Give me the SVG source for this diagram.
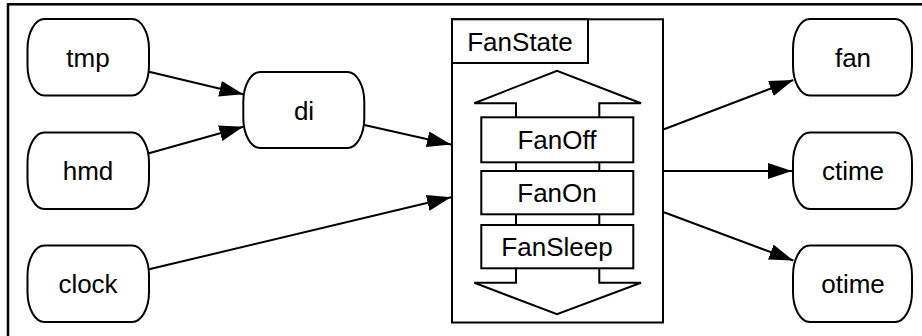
<svg xmlns="http://www.w3.org/2000/svg" width="922" height="336" viewBox="0 0 922 336">
<style>
  .node { fill: #fff; stroke: #000; stroke-width: 2; }
  .box { fill: #fff; stroke: #000; stroke-width: 2; }
  .lbl { font-family: "Liberation Sans", Arial, sans-serif; font-size: 26px; fill: #000; text-anchor: middle; }
  .edge { fill: none; stroke: #000; stroke-width: 2; }
  .frame { fill: #fff; stroke: #000; stroke-width: 2.5; }
</style>
<defs>
  <marker id="ah" markerUnits="userSpaceOnUse" markerWidth="26" markerHeight="18" refX="24" refY="8" orient="auto">
    <path d="M0,0 L24,8 L0,16 Z" fill="#000"/>
  </marker>
</defs>
<rect class="frame" x="8" y="4.3" width="940" height="360"/>

<g id="edges">
  <line class="edge" x1="149" y1="71.7" x2="243.3" y2="94.3" marker-end="url(#ah)"/>
  <line class="edge" x1="149" y1="153.3" x2="243.3" y2="126.7" marker-end="url(#ah)"/>
  <line class="edge" x1="364.3" y1="125" x2="451" y2="144.5" marker-end="url(#ah)"/>
  <line class="edge" x1="149" y1="269.3" x2="451" y2="197.3" marker-end="url(#ah)"/>
  <line class="edge" x1="664" y1="129.3" x2="793.3" y2="80" marker-end="url(#ah)"/>
  <line class="edge" x1="664" y1="171" x2="792" y2="171" marker-end="url(#ah)"/>
  <line class="edge" x1="664" y1="212.3" x2="793.3" y2="260.5" marker-end="url(#ah)"/>
</g>

<g id="tmp">
  <rect class="node" x="27.5" y="19" width="121.5" height="76.5" rx="17" ry="30"/>
  <text class="lbl" x="88" y="66.5">tmp</text>
</g>
<g id="hmd">
  <rect class="node" x="27.5" y="132.5" width="121.5" height="76.5" rx="17" ry="30"/>
  <text class="lbl" x="88" y="180">hmd</text>
</g>
<g id="clock">
  <rect class="node" x="27.5" y="245.5" width="121.5" height="76.5" rx="17" ry="30"/>
  <text class="lbl" x="88" y="293">clock</text>
</g>
<g id="di">
  <rect class="node" x="243.3" y="72" width="121" height="76" rx="17" ry="30"/>
  <text class="lbl" x="304" y="119.5">di</text>
</g>
<g id="fan">
  <rect class="node" x="793" y="19" width="119" height="76.5" rx="17" ry="30"/>
  <text class="lbl" x="853" y="66.5">fan</text>
</g>
<g id="ctime">
  <rect class="node" x="793" y="132.5" width="119" height="76.5" rx="17" ry="30"/>
  <text class="lbl" x="853" y="180">ctime</text>
</g>
<g id="otime">
  <rect class="node" x="793" y="245.5" width="119" height="76.5" rx="17" ry="30"/>
  <text class="lbl" x="853" y="293">otime</text>
</g>

<g id="FanState">
  <rect class="box" x="452" y="19.3" width="211" height="303.2"/>
  <rect class="box" x="452" y="19.3" width="136" height="43.7"/>
  <text class="lbl" x="520" y="51">FanState</text>
  <path class="edge" d="M516,117.3 V103.3 H474.3 L557,70.7 L641,103.3 H599.3 V117.3"/>
  <path class="edge" d="M516,162.3 V171 M599.3,162.3 V171 M516,214.3 V225 M599.3,214.3 V225"/>
  <path class="edge" d="M516,268.3 V282.7 H474.3 L557,314.3 L641,282.7 H599.3 V268.3"/>
</g>
<g id="FanOff">
  <rect class="box" x="481.3" y="117.3" width="152" height="45"/>
  <text class="lbl" x="557" y="149">FanOff</text>
</g>
<g id="FanOn">
  <rect class="box" x="481.3" y="171" width="152" height="43.3"/>
  <text class="lbl" x="557" y="202">FanOn</text>
</g>
<g id="FanSleep">
  <rect class="box" x="481.3" y="225" width="152" height="43.3"/>
  <text class="lbl" x="557" y="256">FanSleep</text>
</g>
</svg>
